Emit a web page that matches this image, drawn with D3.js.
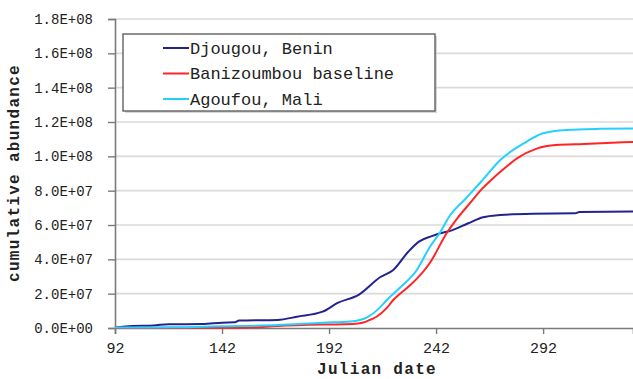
<!DOCTYPE html>
<html>
<head>
<meta charset="utf-8">
<script src="https://cdn.jsdelivr.net/npm/d3@7/dist/d3.min.js"></script>
<style>
  html, body { margin: 0; padding: 0; background: #fff; }
  svg { display: block; }
  text { font-family: "Courier New", "Liberation Mono", "DejaVu Sans Mono", monospace; fill: #222; }
</style>
</head>
<body>
<script>
// Cumulative abundance by Julian date at three sites
const seriesNames = ["Djougou, Benin", "Banizoumbou baseline", "Agoufou, Mali"];
const seriesColors = ["#23238f", "#ff2525", "#25d0ff"];

const djougouDays   = [92, 100, 110, 117, 133, 142, 148, 150, 168, 177, 189, 196, 206, 216, 222, 229, 234, 240, 244, 249, 257, 264, 272, 287, 307, 309, 334];
const djougouValues = [0.3e6, 1.2e6, 1.5e6, 2.2e6, 2.3e6, 3.1e6, 3.3e6, 4.3e6, 4.7e6, 6.6e6, 9.5e6, 14.6e6, 19.5e6, 29.7e6, 33.8e6, 44.4e6, 50.3e6, 53.5e6, 55.2e6, 56.7e6, 61.0e6, 64.5e6, 65.8e6, 66.6e6, 66.8e6, 67.6e6, 67.8e6];

const baniDays   = [92, 152, 155, 168, 189, 203, 208, 211, 214, 219, 222, 225, 230, 239, 247, 252, 258, 263, 268, 273, 280, 289, 298, 311, 319, 334];
const baniValues = [0.2e6, 0.2e6, 0.3e6, 1.2e6, 2.0e6, 2.3e6, 3.2e6, 4.7e6, 6.4e6, 11.7e6, 16.3e6, 19.8e6, 25.0e6, 37.7e6, 55.3e6, 64.0e6, 73.0e6, 80.5e6, 86.5e6, 92.0e6, 99.0e6, 104.5e6, 106.6e6, 107.2e6, 107.6e6, 108.4e6];

const agoufouDays   = [92, 121, 140, 168, 189, 202, 210, 215, 219, 225, 233, 239, 244, 248, 256, 263, 272, 283, 292, 303, 319, 334];
const agoufouValues = [0.3e6, 0.4e6, 1.0e6, 1.7e6, 3.1e6, 3.8e6, 6.4e6, 11.0e6, 16.3e6, 23.3e6, 33.8e6, 47.0e6, 55.9e6, 64.7e6, 75.6e6, 85.2e6, 97.9e6, 107.6e6, 113.4e6, 115.4e6, 116.0e6, 116.2e6];

const xTicks = [92, 142, 192, 242, 292];
const yTicks = [0, 2e7, 4e7, 6e7, 8e7, 1e8, 1.2e8, 1.4e8, 1.6e8, 1.8e8];
const yTickLabels = ["0.0E+00", "2.0E+07", "4.0E+07", "6.0E+07", "8.0E+07", "1.0E+08", "1.2E+08", "1.4E+08", "1.6E+08", "1.8E+08"];

const W = 633, H = 379;
const svg = d3.select("body").append("svg").attr("width", W).attr("height", H);

const x = d3.scaleLinear().domain([92, 334]).range([115, 633]);
const y = d3.scaleLinear().domain([0, 1.8e8]).range([328, 19]);

// horizontal grid
svg.append("g").selectAll("line").data(yTicks.slice(1)).join("line")
  .attr("x1", x(92)).attr("x2", W)
  .attr("y1", d => y(d)).attr("y2", d => y(d))
  .attr("stroke", "#dadada").attr("stroke-width", 1.6);

// y axis
const yAxis = d3.axisLeft(y).tickValues(yTicks)
  .tickFormat((d, i) => yTickLabels[i]).tickSize(7).tickPadding(15);
const gy = svg.append("g").attr("transform", `translate(${x(92)},0)`).call(yAxis);
gy.select(".domain").attr("stroke", "#7a7a7a").attr("stroke-width", 1.6);
gy.selectAll(".tick line").attr("stroke", "#7a7a7a").attr("stroke-width", 1.4);
gy.selectAll(".tick text").attr("font-size", 14).attr("fill", "#222")
  .attr("font-family", "'Courier New', 'Liberation Mono', monospace");

// x axis
const xAxis = d3.axisBottom(x).tickValues(xTicks).tickFormat(d3.format("d")).tickSize(6).tickPadding(8);
const gx = svg.append("g").attr("transform", `translate(0,${y(0)})`).call(xAxis);
gx.select(".domain").attr("stroke", "#7a7a7a").attr("stroke-width", 1.6);
gx.selectAll(".tick line").attr("stroke", "#7a7a7a").attr("stroke-width", 1.4);
gx.selectAll(".tick text").attr("font-size", 15).attr("fill", "#222")
  .attr("font-family", "'Courier New', 'Liberation Mono', monospace");

// series lines
const line = d3.line().x(d => x(d[0])).y(d => y(d[1])).curve(d3.curveMonotoneX);
const series = [
  d3.zip(djougouDays, djougouValues),
  d3.zip(baniDays, baniValues),
  d3.zip(agoufouDays, agoufouValues)
];
svg.append("g").selectAll("path").data(series).join("path")
  .attr("d", line)
  .attr("fill", "none")
  .attr("stroke", (d, i) => seriesColors[i])
  .attr("stroke-width", 2)
  .attr("stroke-linejoin", "round");

// axis titles
svg.append("text")
  .attr("x", 377).attr("y", 374)
  .attr("text-anchor", "middle")
  .attr("font-size", 16).attr("font-weight", "bold").attr("letter-spacing", 1.3)
  .text("Julian date");
svg.append("text")
  .attr("transform", "translate(19,173) rotate(-90)")
  .attr("text-anchor", "middle")
  .attr("font-size", 16).attr("font-weight", "bold").attr("letter-spacing", 1.3)
  .text("cumulative abundance");

// legend
const lg = svg.append("g");
lg.append("rect").attr("x", 125).attr("y", 36).attr("width", 312).attr("height", 77)
  .attr("fill", "#bbb").attr("opacity", 0.6);
lg.append("rect").attr("x", 123).attr("y", 34).attr("width", 312).attr("height", 77)
  .attr("fill", "#fff").attr("stroke", "#555").attr("stroke-width", 1.3);
const rows = lg.selectAll("g.row").data(seriesNames).join("g")
  .attr("class", "row")
  .attr("transform", (d, i) => `translate(0,${48 + i * 25.5})`);
rows.append("line").attr("x1", 163).attr("x2", 189).attr("y1", 0).attr("y2", 0)
  .attr("stroke", (d, i) => seriesColors[i]).attr("stroke-width", 2);
rows.append("text").attr("x", 190).attr("y", 0).attr("dy", "0.35em")
  .attr("font-size", 17).text(d => d);
</script>
</body>
</html>
